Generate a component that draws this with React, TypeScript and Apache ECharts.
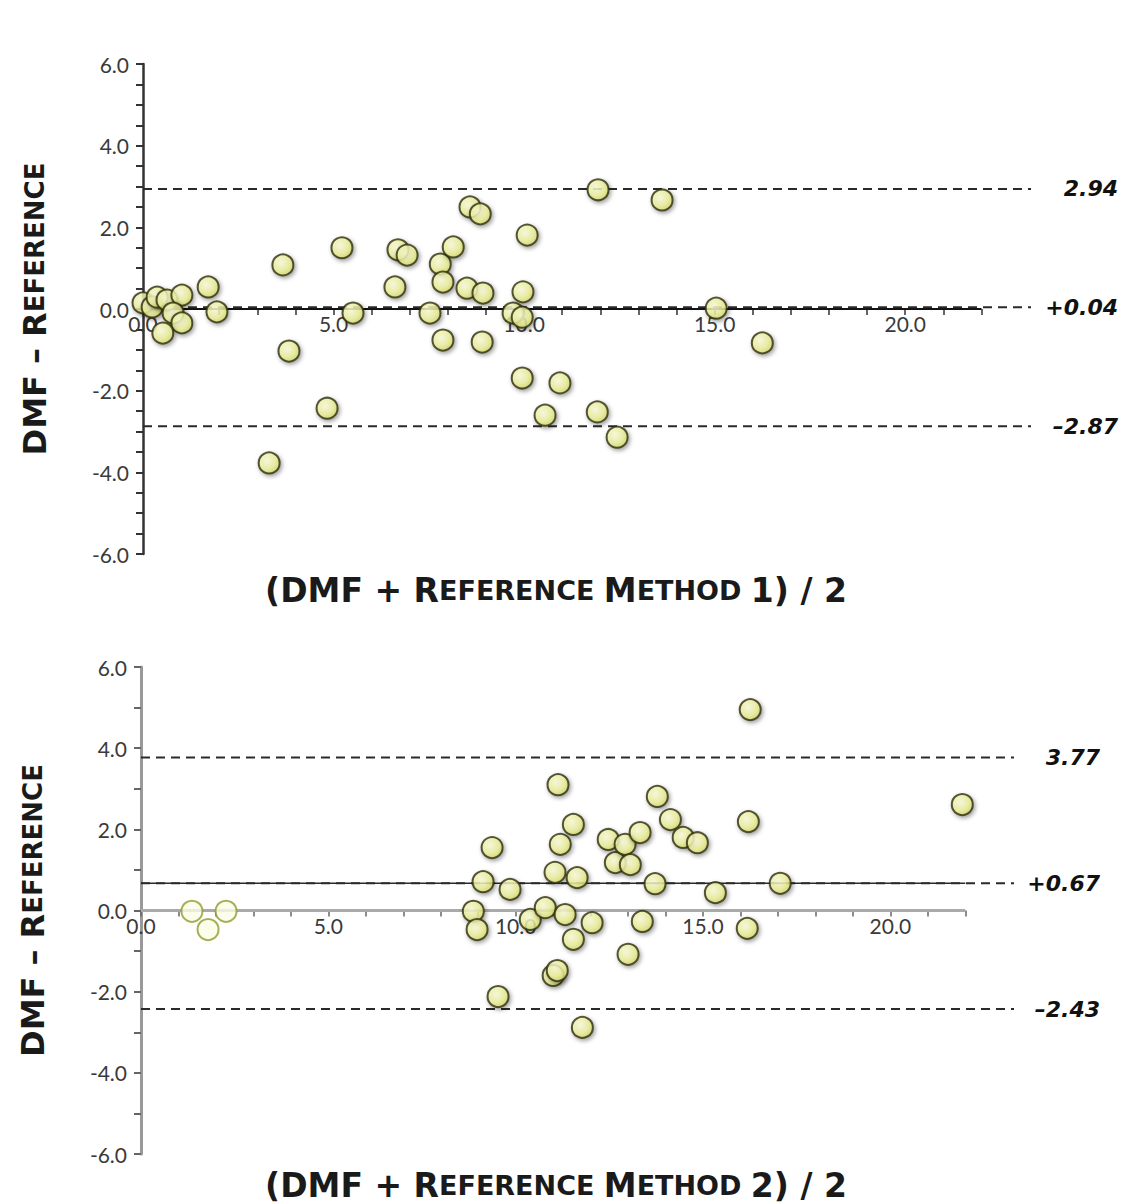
import React, { useEffect, useRef } from "react";
import * as echarts from "echarts";

// ---- Data: Method 1 (top panel) ----
const m1Mean = [0.0, 0.24, 0.37, 0.63, 1.02, 0.79, 1.02, 0.52, 1.71, 1.94, 3.67, 3.83, 3.31, 4.83, 5.22, 5.51, 6.61, 6.69, 6.93, 7.53, 7.8, 7.87, 7.87, 8.14, 8.5, 8.58, 8.85, 8.92, 8.9, 9.71, 9.95, 9.97, 10.08, 9.95, 10.94, 10.55, 11.92, 12.44, 11.94, 13.62, 15.04, 16.25];
const m1Diff = [0.15, 0.05, 0.29, 0.22, 0.34, -0.1, -0.34, -0.59, 0.54, -0.07, 1.08, -1.03, -3.77, -2.43, 1.5, -0.1, 0.54, 1.45, 1.32, -0.1, 1.1, 0.66, -0.76, 1.52, 0.51, 2.5, 2.33, 0.39, -0.81, -0.1, -0.2, 0.42, 1.81, -1.69, -1.81, -2.6, -2.52, -3.14, 2.92, 2.67, 0.02, -0.83];
const m1Limits = [2.94, 0.04, -2.87];
const m1LimitLabels = ["2.94", "+0.04", "\u20132.87"];

// ---- Data: Method 2 (bottom panel) ----
const m2Mean = [8.87, 8.97, 9.13, 9.37, 9.53, 9.85, 10.39, 10.79, 11.05, 11.13, 11.0, 11.11, 11.19, 11.32, 11.54, 11.54, 11.64, 11.78, 12.04, 12.47, 12.66, 12.92, 13.06, 13.0, 13.32, 13.38, 13.72, 13.78, 14.13, 14.47, 14.85, 15.33, 16.21, 16.26, 16.18, 17.06, 21.92];
const m2Diff = [-0.02, -0.47, 0.71, 1.55, -2.12, 0.52, -0.22, 0.07, 0.94, 3.1, -1.6, -1.48, 1.63, -0.1, 2.12, -0.71, 0.81, -2.88, -0.3, 1.75, 1.18, 1.63, 1.13, -1.08, 1.92, -0.27, 0.66, 2.81, 2.24, 1.8, 1.67, 0.44, 2.19, 4.95, -0.44, 0.67, 2.61];
const m2FadedMean = [1.36, 1.79, 2.27];
const m2FadedDiff = [-0.02, -0.47, -0.02];
const m2Limits = [3.77, 0.67, -2.43];
const m2LimitLabels = ["3.77", "+0.67", "\u20132.43"];

// ---- Axes ----
const xTickValues = [0, 1, 2, 3, 4, 5, 6, 7, 8, 9, 10, 11, 12, 13, 14, 15, 16, 17, 18, 19, 20, 21, 22];
const xLabelValues = [0, 5, 10, 15, 20];
const yLabelValues = [-6, -4, -2, 0, 2, 4, 6];
const X_MIN = 0;
const X_AXIS_END = 22;
const X_MAX = 23.3; // reference lines run past the drawn axis
const Y_MIN = -6;
const Y_MAX = 6;

const TICK_FONT = "Lato, 'Open Sans', sans-serif";
const BOLD_FONT = "'DejaVu Sans', Lato, sans-serif";

const pointStyle = {
  color: {
    type: "radial",
    x: 0.4,
    y: 0.38,
    r: 0.65,
    colorStops: [
      { offset: 0, color: "#fdfedc" },
      { offset: 0.6, color: "#eef29e" },
      { offset: 1, color: "#d6da6a" },
    ],
  },
  borderColor: "#2e2e0c",
  borderWidth: 2,
  shadowBlur: 4,
  shadowColor: "rgba(0,0,0,0.45)",
  shadowOffsetX: 1.5,
  shadowOffsetY: 2,
};

const fadedStyle = {
  color: "#fcfde6",
  borderColor: "#8e9c2c",
  borderWidth: 2,
};

function zip(a: number[], b: number[]) {
  return a.map((v, i) => [v, b[i]]);
}

function xAxisCfg(gridIndex: number, dark: boolean, halfHeight: number) {
  return {
    type: "value",
    gridIndex,
    min: X_MIN,
    max: X_MAX,
    position: "bottom",
    offset: -halfHeight,
    splitLine: { show: false },
    axisLine: { show: false, onZero: false },
    axisTick: {
      show: true,
      length: 6,
      customValues: xTickValues,
      lineStyle: { color: dark ? "#333" : "#666", width: 1.5 },
    },
    axisLabel: {
      customValues: xLabelValues,
      margin: 4,
      color: "#3a3a3a",
      fontFamily: TICK_FONT,
      fontSize: 21,
      formatter: (v: number) => v.toFixed(1),
    },
  };
}

function yAxisCfg(gridIndex: number, dark: boolean, interval: number) {
  const c = dark ? "#333" : "#999";
  return {
    type: "value",
    gridIndex,
    min: Y_MIN,
    max: Y_MAX,
    interval,
    splitLine: { show: false },
    axisLine: { onZero: false, lineStyle: { color: c, width: dark ? 2.5 : 3 } },
    axisTick: { show: true, length: 7, lineStyle: { color: dark ? "#333" : "#666", width: 2 } },
    axisLabel: {
      interval: 0,
      margin: 14,
      color: "#3a3a3a",
      fontFamily: TICK_FONT,
      fontSize: 21,
      formatter: (v: number) => (yLabelValues.some((t) => Math.abs(t - v) < 1e-6) ? v.toFixed(1) : ""),
    },
    name: "{a|DMF \u2013 R}{b|EFERENCE}",
    nameLocation: "middle",
    nameRotate: 90,
    nameGap: 92,
    nameTextStyle: {
      rich: {
        a: { fontFamily: BOLD_FONT, fontWeight: "bold", fontSize: 32, color: "#1a1a1a" },
        b: { fontFamily: BOLD_FONT, fontWeight: "bold", fontSize: 26, color: "#1a1a1a" },
      },
    },
  };
}

function limitSeries(idx: number, values: number[], labels: string[], labelOffset: number) {
  return values.map((v, i) => ({
    type: "line",
    xAxisIndex: idx,
    yAxisIndex: idx,
    data: [
      [X_MIN, v],
      [X_MAX, v],
    ],
    symbol: "none",
    silent: true,
    z: 2,
    lineStyle: { color: "#2a2a2a", width: 2, type: [9, 6] },
    endLabel: {
      show: true,
      formatter: labels[i],
      align: "right",
      distance: 8,
      offset: [labelOffset, 0],
      color: "#111",
      fontFamily: BOLD_FONT,
      fontWeight: "bold",
      fontStyle: "italic",
      fontSize: 22,
    },
  }));
}

function axisLineSeries(idx: number, color: string, width: number) {
  return {
    type: "line",
    xAxisIndex: idx,
    yAxisIndex: idx,
    data: [
      [X_MIN, 0],
      [X_AXIS_END, 0],
    ],
    symbol: "none",
    silent: true,
    z: 1,
    lineStyle: { color, width },
  };
}

function xTitle(y: number, n: string) {
  return {
    type: "text",
    x: 556,
    y,
    style: {
      text: `{a|(DMF + R}{b|EFERENCE }{a|M}{b|ETHOD }{a|${n}) / 2}`,
      align: "center",
      verticalAlign: "middle",
      rich: {
        a: { fontFamily: BOLD_FONT, fontWeight: "bold", fontSize: 33, fill: "#1a1a1a" },
        b: { fontFamily: BOLD_FONT, fontWeight: "bold", fontSize: 27, fill: "#1a1a1a" },
      },
    },
  };
}

export default function App() {
  const ref = useRef<HTMLDivElement>(null);
  useEffect(() => {
    if (!ref.current) return;
    const chart = echarts.init(ref.current, null, { renderer: "svg" });
    chart.setOption({
      animation: false,
      backgroundColor: "#ffffff",
      grid: [
        { left: 143, top: 64, width: 888, height: 490 },
        { left: 141, top: 667, width: 873, height: 487 },
      ],
      xAxis: [xAxisCfg(0, true, 245), xAxisCfg(1, false, 243.5)],
      yAxis: [yAxisCfg(0, true, 0.5), yAxisCfg(1, false, 1)],
      graphic: [xTitle(590, "1"), xTitle(1185, "2")],
      series: [
        axisLineSeries(0, "#111", 2),
        axisLineSeries(1, "#aaaaaa", 3),
        ...limitSeries(0, m1Limits, m1LimitLabels, 79),
        ...limitSeries(1, m2Limits, m2LimitLabels, 78),
        {
          type: "line",
          xAxisIndex: 1,
          yAxisIndex: 1,
          data: [
            [X_MIN, m2Limits[1]],
            [X_AXIS_END, m2Limits[1]],
          ],
          symbol: "none",
          silent: true,
          z: 1,
          lineStyle: { color: "#2a2a2a", width: 1.4 },
        },
        {
          type: "scatter",
          xAxisIndex: 0,
          yAxisIndex: 0,
          symbolSize: 21,
          z: 5,
          itemStyle: pointStyle,
          data: zip(m1Mean, m1Diff),
        },
        {
          type: "scatter",
          xAxisIndex: 1,
          yAxisIndex: 1,
          symbolSize: 21,
          z: 5,
          itemStyle: fadedStyle,
          data: zip(m2FadedMean, m2FadedDiff),
        },
        {
          type: "scatter",
          xAxisIndex: 1,
          yAxisIndex: 1,
          symbolSize: 21,
          z: 5,
          itemStyle: pointStyle,
          data: zip(m2Mean, m2Diff),
        },
      ],
    });
    return () => chart.dispose();
  }, []);
  return (
    <div
      ref={ref}
      style={{ position: "fixed", left: 0, top: 0, width: 1135, height: 1203, background: "#fff" }}
    />
  );
}
